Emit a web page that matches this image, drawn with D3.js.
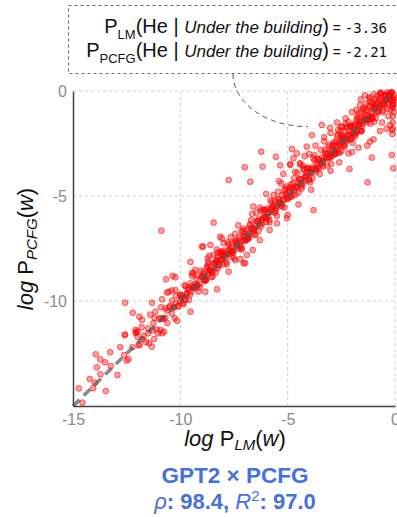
<!DOCTYPE html>
<html>
<head>
<meta charset="utf-8">
<script src="https://cdn.jsdelivr.net/npm/d3@7"></script>
<style>
  body { margin: 0; background: #fff; }
  svg { display: block; font-family: "Liberation Sans", Arial, sans-serif; }
</style>
</head>
<body>
<svg id="chart" width="397" height="517"></svg>
<script>
// axis ticks
const xTicks = [-15, -10, -5, 0];
const yTicks = [0, -5, -10];

// [log P_LM(w), log P_PCFG(w)] — dense band along the diagonal
const bandPoints = [
  [-12.0,-11.7],[-11.9,-12.1],[-11.8,-11.25],[-11.7,-11.65],[-11.6,-11.95],[-11.5,-11.3],[-11.4,-10.65],[-11.3,-11.4],
  [-11.2,-10.8],[-11.1,-11.35],[-11.0,-10.85],[-10.9,-10.3],[-10.8,-10.85],[-10.7,-10.35],[-10.6,-11.05],[-10.5,-10.25],
  [-10.4,-9.5],[-10.3,-10.3],[-10.2,-9.75],[-10.1,-10.25],[-10.0,-9.7],[-9.9,-10.1],[-9.8,-9.25],[-9.7,-9.65],
  [-9.6,-9.95],[-9.5,-9.3],[-9.4,-8.65],[-9.3,-9.4],[-9.2,-8.8],[-9.1,-9.35],[-9.0,-8.85],
  [-8.9,-8.6],[-8.8,-9.0],[-8.7,-8.15],[-8.6,-8.55],[-8.5,-8.85],[-8.4,-8.2],[-8.3,-7.55],[-8.2,-8.3],
  [-8.1,-7.7],[-8.0,-8.25],[-7.9,-7.75],[-7.8,-7.2],[-7.7,-7.75],[-7.6,-7.25],[-7.5,-7.95],[-7.4,-7.15],
  [-7.3,-6.4],[-7.2,-7.2],[-7.1,-6.65],[-7.0,-7.15],[-6.9,-6.6],[-6.8,-7.0],[-6.7,-6.15],[-6.6,-6.55],
  [-6.5,-6.85],[-6.4,-6.2],[-6.3,-5.55],[-6.2,-6.3],[-6.1,-5.7],[-6.0,-6.25],[-5.9,-5.75],[-5.8,-5.2],
  [-5.7,-5.75],[-5.6,-5.25],[-5.5,-5.95],[-5.4,-5.15],[-5.3,-4.4],[-5.2,-5.2],[-5.1,-4.65],[-5.0,-5.15],
  [-8.85,-8.95],[-8.75,-8.35],[-8.65,-8.55],[-8.55,-8.85],[-8.45,-7.8],[-8.35,-8.1],[-8.25,-8.45],[-8.15,-7.65],
  [-8.05,-8.0],[-7.95,-7.6],[-7.85,-8.25],[-7.75,-7.55],[-7.65,-6.95],[-7.55,-7.6],[-7.45,-7.15],[-7.35,-7.35],
  [-7.25,-7.5],[-7.15,-6.7],[-7.05,-6.9],[-6.95,-7.1],[-6.85,-6.95],[-6.75,-6.35],[-6.65,-6.55],[-6.55,-6.85],
  [-6.45,-5.8],[-6.35,-6.1],[-6.25,-6.45],[-6.15,-5.65],[-6.05,-6.0],[-5.95,-5.6],[-5.85,-6.25],[-5.75,-5.55],
  [-5.65,-4.95],[-5.55,-5.6],[-5.45,-5.15],[-5.35,-5.35],[-5.25,-5.5],[-5.15,-4.7],[-5.05,-4.9],
  [-4.9,-4.6],[-4.8,-5.0],[-4.7,-4.15],[-4.6,-4.55],[-4.5,-4.85],[-4.4,-4.2],[-4.3,-3.55],[-4.2,-4.3],
  [-4.1,-3.7],[-4.0,-4.25],[-3.9,-3.75],[-3.8,-3.2],[-3.7,-3.75],[-3.6,-3.25],[-3.5,-3.95],[-3.4,-3.15],
  [-3.3,-2.4],[-3.2,-3.2],[-3.1,-2.65],[-3.0,-3.15],[-2.9,-2.6],[-2.8,-3.0],[-2.7,-2.15],[-2.6,-2.55],
  [-2.5,-2.85],[-2.4,-2.2],[-2.3,-1.55],[-2.2,-2.3],[-2.1,-1.7],[-2.0,-2.25],
  [-4.95,-5.05],[-4.85,-4.45],[-4.75,-4.65],[-4.65,-4.95],[-4.55,-3.9],[-4.45,-4.2],[-4.35,-4.55],[-4.25,-3.75],
  [-4.15,-4.1],[-4.05,-3.7],[-3.95,-4.35],[-3.85,-3.65],[-3.75,-3.05],[-3.65,-3.7],[-3.55,-3.25],[-3.45,-3.45],
  [-3.35,-3.6],[-3.25,-2.8],[-3.15,-3.0],[-3.05,-3.2],[-2.95,-3.05],[-2.85,-2.45],[-2.75,-2.65],[-2.65,-2.95],
  [-2.55,-1.9],[-2.45,-2.2],[-2.35,-2.55],[-2.25,-1.75],[-2.15,-2.1],[-2.05,-1.7],
  [-1.95,-1.65],[-1.85,-2.05],[-1.75,-1.2],[-1.65,-1.6],[-1.55,-1.9],[-1.45,-1.25],[-1.35,-0.6],[-1.25,-1.35],
  [-1.15,-0.75],[-1.05,-1.3],[-0.95,-0.8],[-0.85,-0.25],[-0.75,-0.8],[-0.65,-0.3],[-0.55,-1.0],[-0.45,-0.2],
  [-0.35,-0.85],[-0.25,-0.25],[-0.15,-0.45],[-0.05,-0.2],
  [-1.9,-2.0],[-1.8,-1.4],[-1.7,-1.6],[-1.6,-1.9],[-1.5,-0.85],[-1.4,-1.15],[-1.3,-1.5],[-1.2,-0.7],
  [-1.1,-1.05],[-1.0,-0.65],[-0.9,-1.3],[-0.8,-0.6],[-0.7,-0.1],[-0.6,-0.65],[-0.5,-0.2],[-0.4,-0.4],
  [-0.3,-0.55],[-0.2,-0.1],[-0.1,-0.7],
  [-9.95,-9.85],[-9.85,-10.15],[-9.75,-9.3],[-9.65,-9.45],[-9.55,-9.7],[-9.45,-8.8],[-9.35,-9.35],[-9.25,-8.95],
  [-9.15,-9.55],[-9.05,-8.55],[-8.95,-8.8],[-8.85,-9.05],[-8.75,-8.4],[-8.65,-7.85],[-8.55,-8.6],[-8.45,-8.2],
  [-8.35,-8.65],[-8.25,-7.7],[-8.15,-8.05],[-8.05,-7.65],[-7.95,-7.85],[-7.85,-8.15],[-7.75,-7.3],[-7.65,-7.45],
  [-7.55,-7.7],[-7.45,-6.8],[-7.35,-7.35],[-7.25,-6.95],[-7.15,-7.55],[-7.05,-6.55],[-6.95,-6.8],[-6.85,-7.05],
  [-6.75,-6.4],[-6.65,-5.85],[-6.55,-6.6],[-6.45,-6.2],[-6.35,-6.65],[-6.25,-5.7],[-6.15,-6.05],[-6.05,-5.65],
  [-5.95,-5.85],[-5.85,-6.15],[-5.75,-5.3],[-5.65,-5.45],[-5.55,-5.7],[-5.45,-4.8],[-5.35,-5.35],[-5.25,-4.95],
  [-5.15,-5.55],[-5.05,-4.55],[-4.95,-4.8],[-4.85,-5.05],[-4.75,-4.4],[-4.65,-3.85],[-4.55,-4.6],[-4.45,-4.2],
  [-4.35,-4.65],[-4.25,-3.7],[-4.15,-4.05],[-4.05,-3.65],[-3.95,-3.85],[-3.85,-4.15],[-3.75,-3.3],[-3.65,-3.45],
  [-3.55,-3.7],[-3.45,-2.8],[-3.35,-3.35],[-3.25,-2.95],[-3.15,-3.55],[-3.05,-2.55],[-2.95,-2.8],[-2.85,-3.05],
  [-2.75,-2.4],[-2.65,-1.85],[-2.55,-2.6],[-2.45,-2.2],[-2.35,-2.65],[-2.25,-1.7],[-2.15,-2.05],[-2.05,-1.65],
  [-1.95,-1.85],[-1.85,-2.15],[-1.75,-1.3],[-1.65,-1.45],[-1.55,-1.7],[-1.45,-0.8],[-1.35,-1.35],[-1.25,-0.95],
  [-1.15,-1.55],[-1.05,-0.55],[-0.95,-0.8],[-0.85,-1.05],[-0.75,-0.4],[-0.65,-0.15],[-0.55,-0.6],[-0.45,-0.2],
  [-0.35,-0.65],[-0.25,-0.15],[-0.15,-0.05],[-0.05,-0.45],
  [-2.97,-3.47],[-2.87,-2.57],[-2.77,-2.97],[-2.67,-2.07],[-2.57,-2.92],[-2.47,-2.42],[-2.37,-1.92],[-2.27,-2.37],
  [-2.17,-1.47],[-2.07,-2.32],[-1.97,-2.47],[-1.87,-1.57],[-1.77,-1.97],[-1.67,-1.07],[-1.57,-1.92],[-1.47,-1.42],
  [-1.37,-0.92],[-1.27,-1.37],[-1.17,-0.47],[-1.07,-1.32],[-0.97,-1.47],[-0.87,-0.57],[-0.77,-0.97],[-0.67,-0.07],
  [-0.57,-0.92],[-0.47,-0.42],[-0.37,-0.07],[-0.27,-0.37],[-0.17,-0.07],[-0.07,-0.32]
];

// [log P_LM(w), log P_PCFG(w)] — the tight core of the band, right on the diagonal
const coreBandPoints = [
  [-10.9,-10.8],[-10.7,-10.8],[-10.5,-10.3],[-10.3,-10.3],[-10.1,-10.25],[-9.9,-9.75],[-9.7,-9.65],[-9.5,-9.55],
  [-9.3,-9.2],[-9.1,-9.2],[-8.9,-8.7],[-8.7,-8.7],[-8.5,-8.65],[-8.3,-8.15],[-8.1,-8.05],[-7.9,-7.95],
  [-7.7,-7.6],[-7.5,-7.6],[-7.3,-7.1],[-7.1,-7.1],[-6.9,-7.05],[-6.7,-6.55],[-6.5,-6.45],[-6.3,-6.35],
  [-6.1,-6.0],[-5.9,-6.0],[-5.7,-5.5],[-5.5,-5.5],[-5.3,-5.45],[-5.1,-4.95],[-4.9,-4.85],[-4.7,-4.75],
  [-4.5,-4.4],[-4.3,-4.4],[-4.1,-3.9],[-3.9,-3.9],[-3.7,-3.85],[-3.5,-3.35],[-3.3,-3.25],[-3.1,-3.15],
  [-2.9,-2.8],[-2.7,-2.8],[-2.5,-2.3],[-2.3,-2.3],[-2.1,-2.25],[-1.9,-1.75],[-1.7,-1.65],[-1.5,-1.55],
  [-1.3,-1.2],[-1.1,-1.2],[-0.9,-0.7],[-0.7,-0.7],[-0.5,-0.65],[-0.3,-0.15],
  [-10.8,-10.85],[-10.6,-10.45],[-10.4,-10.6],[-10.2,-10.1],[-10.0,-10.0],[-9.8,-9.9],[-9.6,-9.4],[-9.4,-9.35],
  [-9.2,-9.25],[-9.0,-8.85],[-8.8,-9.0],[-8.6,-8.5],[-8.4,-8.4],[-8.2,-8.3],[-8.0,-7.8],[-7.8,-7.75],
  [-7.6,-7.65],[-7.4,-7.25],[-7.2,-7.4],[-7.0,-6.9],[-6.8,-6.8],[-6.6,-6.7],[-6.4,-6.2],[-6.2,-6.15],
  [-6.0,-6.05],[-5.8,-5.65],[-5.6,-5.8],[-5.4,-5.3],[-5.2,-5.2],[-5.0,-5.1],[-4.8,-4.6],[-4.6,-4.55],
  [-4.4,-4.45],[-4.2,-4.05],[-4.0,-4.2],[-3.8,-3.7],[-3.6,-3.6],[-3.4,-3.5],[-3.2,-3.0],[-3.0,-2.95],
  [-2.8,-2.85],[-2.6,-2.45],[-2.4,-2.6],[-2.2,-2.1],[-2.0,-2.0],[-1.8,-1.9],[-1.6,-1.4],[-1.4,-1.35],
  [-1.2,-1.25],[-1.0,-0.85],[-0.8,-1.0],[-0.6,-0.5],[-0.4,-0.4],[-0.2,-0.3]
];

// [log P_LM(w), log P_PCFG(w)] — words away from the band
const scatteredPoints = [
  [-2.5,-1.7],[-2.3,-1.3],[-2.0,-1.0],[-1.8,-0.9],[-1.6,-0.4],[-1.4,-0.2],[-1.2,-0.3],[-1.0,-0.15],
  [-0.9,-0.4],[-0.6,-1.5],[-0.3,-1.2],[-0.2,-0.9],[-0.4,-1.8],[-0.7,-1.9],[-1.0,-2.3],[-1.3,-2.6],
  [-2.0,-2.9],[-1.7,-2.7],[-3.0,-2.0],[-2.7,-1.5],[-3.3,-2.2],[-3.7,-2.6],[-3.0,-3.8],[-2.6,-3.4],
  [-4.2,-3.1],[-4.5,-5.4],[-3.9,-4.7],[-5.5,-6.3],[-6.0,-4.9],[-6.6,-5.5],[-7.2,-8.0],[-6.3,-7.1],
  [-5.0,-5.9],[-4.0,-3.0],
  [-0.1,-0.4],[-0.1,-0.8],[-0.1,-1.2],[-0.1,-1.5],[-0.1,-1.8],[-0.12,-2.05],[-0.08,-0.6],[-0.05,-1.0],
  [-14.73,-14.16],[-14.56,-14.84],[-14.22,-13.71],[-14.06,-14.15],[-13.97,-13.89],[-13.47,-14.29],
  [-13.94,-12.54],[-13.73,-12.78],[-13.5,-12.92],[-13.89,-13.16],[-13.72,-13.49],[-13.27,-12.44],
  [-13.24,-13.1],[-12.93,-13.52],[-12.8,-12.2],[-12.59,-11.62],[-12.62,-12.57],[-12.5,-12.84],
  [-12.42,-12.76],[-12.23,-12.2],[-12.05,-11.49],[-12.0,-11.45],[-12.08,-11.52],[-11.94,-12.1],
  [-11.77,-11.81],[-11.46,-12.01],[-11.33,-12.17],[-11.49,-11.54],[-11.22,-11.81],[-11.26,-11.06],
  [-11.04,-11.54],[-10.92,-11.38],[-10.84,-11.54],[-10.76,-11.46],
  [-10.88,-6.65],[-12.57,-10.08],[-12.22,-10.56],[-11.91,-10.75],[-11.78,-10.9],[-12.57,-11.6],
  [-12.09,-11.38],[-11.32,-10.08],[-11.16,-10.51],[-10.85,-9.92],[-10.62,-9.6],[-10.39,-9.98],
  [-10.26,-10.82],[-10.15,-10.94],[-10.67,-8.97],[-10.36,-8.81],[-10.23,-8.87],[-10.54,-9.56],
  [-10.23,-9.48],[-10.0,-9.71],[-9.53,-10.51],[-9.77,-9.95],[-9.53,-8.14],[-9.46,-8.68],
  [-9.53,-9.16],[-9.22,-9.24],[-9.3,-8.52],[-8.91,-9.0],[-8.84,-9.56],[-8.29,-9.44],
  [-8.68,-8.25],[-8.99,-7.41],[-8.6,-7.33],[-8.26,-7.89],[-8.06,-7.81],[-7.98,-7.25],
  [-7.75,-8.6],[-7.6,-7.89],[-6.98,-8.2],[-7.44,-8.05],[-8.14,-6.94],[-7.13,-7.49],[-6.9,-7.81],
  [-7.75,-4.24],[-7.0,-3.63],[-6.74,-4.32],[-6.17,-3.6],[-6.23,-2.89],[-5.55,-3.13],[-5.35,-3.54],
  [-5.4,-4.29],[-5.2,-3.95],[-8.45,-6.27],[-8.94,-7.41],[-8.06,-7.02],[-8.73,-7.97],[-8.29,-8.05],
  [-7.05,-8.2],[-6.63,-7.57],[-5.84,-6.62],[-5.04,-6.06],[-3.8,-5.67],[-4.88,-3.48],[-4.57,-2.97],
  [-4.42,-3.44],
  [-3.41,-1.62],[-3.87,-2.1],[-4.11,-2.65],[-4.8,-2.76],[-4.73,-3.2],[-4.88,-3.52],[-4.42,-3.49],
  [-3.02,-1.75],[-2.48,-1.7],[-2.48,-2.1],[-2.17,-2.97],[-2.12,-3.71],[-1.08,-3.17],[-1.28,-4.35],
  [-1.16,-2.41],[-0.23,-1.62],[-0.15,-1.86],[-0.08,-3.68],[-0.15,-3.05],[-1.63,-0.67],[-1.55,-0.98],
  [-1.16,-0.35],[-1.08,-1.22],[-0.08,-0.67]
];

// the word the annotation points at
const annotationTarget = [-4.05, -1.7];

const svg = d3.select("#chart");

const x = d3.scaleLinear().domain([-15, 0]).range([73, 395]);
const y = d3.scaleLinear().domain([-15, 0]).range([406, 91]);

const gray = "#8a8a8a";

// grid
const grid = svg.append("g")
  .attr("stroke", "#cfcfcf")
  .attr("stroke-dasharray", "3,3")
  .attr("stroke-width", 1);

grid.selectAll(".vgrid")
  .data(xTicks.filter(d => d > -15))
  .join("line")
  .attr("x1", d => x(d)).attr("x2", d => x(d))
  .attr("y1", y(0)).attr("y2", y(-15));

grid.selectAll(".hgrid")
  .data(yTicks)
  .join("line")
  .attr("x1", x(-15)).attr("x2", x(0))
  .attr("y1", d => y(d)).attr("y2", d => y(d));

// points
const allPoints = bandPoints.concat(coreBandPoints, scatteredPoints);
svg.append("g")
  .selectAll("circle")
  .data(allPoints)
  .join("circle")
  .attr("cx", d => x(d[0]))
  .attr("cy", d => y(d[1]))
  .attr("r", 2.9)
  .attr("fill", "#ff0000")
  .attr("fill-opacity", 0.38)
  .attr("stroke", "#ff0000")
  .attr("stroke-opacity", 0.55)
  .attr("stroke-width", 1);

// diagonal
svg.append("line")
  .attr("x1", x(-15)).attr("y1", y(-15))
  .attr("x2", x(0)).attr("y2", y(0))
  .attr("stroke", "#555")
  .attr("stroke-opacity", 0.7)
  .attr("stroke-width", 3.5)
  .attr("stroke-dasharray", "9,6");

// axes
const xAxis = svg.append("g")
  .attr("transform", `translate(0,${y(-15)})`)
  .call(d3.axisBottom(x).tickValues(xTicks).tickSize(0).tickPadding(8).tickFormat(d => String(d)));

const yAxis = svg.append("g")
  .attr("transform", `translate(${x(-15)},0)`)
  .call(d3.axisLeft(y).tickValues(yTicks).tickSize(0).tickPadding(6).tickFormat(d => String(d)));

[xAxis, yAxis].forEach(a => {
  a.select(".domain").attr("stroke", "#444").attr("stroke-width", 1.5);
  a.selectAll("text")
    .attr("fill", gray)
    .style("font-size", "16px")
    .style("font-family", "'Liberation Sans', Arial, sans-serif");
});

// axis titles
const xTitle = svg.append("text")
  .attr("x", 235).attr("y", 446)
  .attr("text-anchor", "middle")
  .attr("fill", "#111")
  .style("font-size", "22px");
xTitle.append("tspan").attr("font-style", "italic").text("log ");
xTitle.append("tspan").text("P");
xTitle.append("tspan").attr("font-style", "italic").attr("font-size", "15px").attr("dy", 4).text("LM");
xTitle.append("tspan").attr("dy", -4).text("(");
xTitle.append("tspan").attr("font-style", "italic").text("w");
xTitle.append("tspan").text(")");

const yTitle = svg.append("text")
  .attr("transform", "translate(33,249) rotate(-90)")
  .attr("text-anchor", "middle")
  .attr("fill", "#111")
  .style("font-size", "22px");
yTitle.append("tspan").attr("font-style", "italic").text("log ");
yTitle.append("tspan").text("P");
yTitle.append("tspan").attr("font-style", "italic").attr("font-size", "15px").attr("dy", 4).text("PCFG");
yTitle.append("tspan").attr("dy", -4).text("(");
yTitle.append("tspan").attr("font-style", "italic").text("w");
yTitle.append("tspan").text(")");

// title
const blue = "#4470e0";
svg.append("text")
  .attr("x", 235).attr("y", 483)
  .attr("text-anchor", "middle")
  .attr("fill", blue)
  .attr("font-weight", "bold")
  .style("font-size", "22.5px")
  .text("GPT2 × PCFG");

const stats = svg.append("text")
  .attr("x", 235).attr("y", 509)
  .attr("text-anchor", "middle")
  .attr("fill", blue)
  .attr("font-weight", "bold")
  .style("font-size", "22px");
stats.append("tspan").attr("font-style", "italic").attr("font-weight", "normal").text("ρ");
stats.append("tspan").text(": 98.4, ");
stats.append("tspan").attr("font-style", "italic").attr("font-weight", "normal").text("R");
stats.append("tspan").attr("font-weight", "normal").attr("font-size", "15px").attr("dy", -8).text("2");
stats.append("tspan").attr("dy", 8).text(": 97.0");

// annotation box
svg.append("rect")
  .attr("x", 68.5).attr("y", 5.5)
  .attr("width", 340).attr("height", 68)
  .attr("fill", "none")
  .attr("stroke", "#666")
  .attr("stroke-dasharray", "3,3");

const tx = x(annotationTarget[0]);
const ty = y(annotationTarget[1]);
svg.append("path")
  .attr("d", `M233,74 A${tx - 233},${ty - 74} 0 0,0 ${tx},${ty}`)
  .attr("fill", "none")
  .attr("stroke", "#555")
  .attr("stroke-dasharray", "5,4");

const lines = [
  { sub: "LM", value: "-3.36", yPos: 33 },
  { sub: "PCFG", value: "-2.21", yPos: 57 }
];
lines.forEach(l => {
  const t = svg.append("text")
    .attr("x", 387).attr("y", l.yPos)
    .attr("text-anchor", "end")
    .attr("fill", "#111")
    .style("font-size", "20px");
  t.append("tspan").text("P");
  t.append("tspan").attr("font-size", "13px").attr("dy", 6).text(l.sub);
  t.append("tspan").attr("dy", -6).text("(He | ");
  t.append("tspan").attr("font-style", "italic").attr("font-size", "17px").text("Under the building");
  t.append("tspan").text(")");
  t.append("tspan").attr("font-size", "14px").text(" = ");
  t.append("tspan").attr("font-size", "14px").style("font-family", "'DejaVu Sans Mono', monospace").text(l.value);
});
</script>
</body>
</html>
